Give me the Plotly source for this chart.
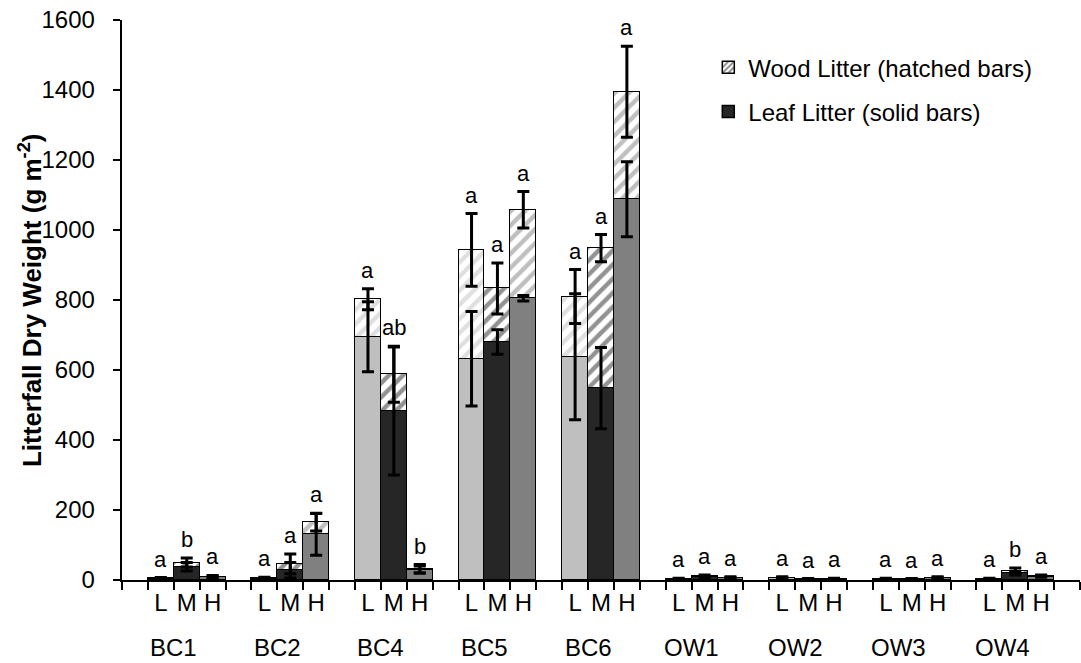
import plotly.graph_objects as go

groups = ["BC1", "BC2", "BC4", "BC5", "BC6", "OW1", "OW2", "OW3", "OW4"]
levels = ["L", "M", "H"]

# Leaf litter (solid bars) and total (leaf + wood) values, g m-2
L_leaf = [3, 4, 695, 632, 638, 2, 5, 2, 2]
L_total = [5, 6, 802, 943, 810, 4, 7, 4, 4]
M_leaf = [38, 28, 483, 680, 548, 8, 2, 2, 19]
M_total = [50, 46, 588, 833, 948, 12, 3, 3, 27]
H_leaf = [8, 131, 30, 805, 1088, 5, 3, 5, 10]
H_total = [10, 165, 32, 1058, 1395, 7, 4, 7, 12]

# Standard errors
L_leaf_err = [2, 2, 100, 135, 180, 1, 2, 1, 1]
L_total_err = [2, 2, 30, 104, 77, 1, 2, 1, 1]
M_leaf_err = [12, 22, 183, 35, 116, 2, 1, 1, 5]
M_total_err = [13, 28, 80, 73, 39, 2, 1, 1, 7]
H_leaf_err = [3, 60, 10, 8, 107, 2, 1, 2, 2]
H_total_err = [3, 25, 12, 52, 130, 2, 1, 2, 2]

# Significance letters
L_letters = ["a", "a", "a", "a", "a", "a", "a", "a", "a"]
M_letters = ["b", "a", "ab", "a", "a", "a", "a", "a", "b"]
H_letters = ["a", "a", "b", "a", "a", "a", "a", "a", "a"]

y_ticks = [0, 200, 400, 600, 800, 1000, 1200, 1400, 1600]

colors = {"L": "#bfbfbf", "M": "#262626", "H": "#808080"}
FONT = "Liberation Sans, Arial, sans-serif"

series = {
    "L": (L_leaf, L_total, L_leaf_err, L_total_err, L_letters),
    "M": (M_leaf, M_total, M_leaf_err, M_total_err, M_letters),
    "H": (H_leaf, H_total, H_leaf_err, H_total_err, H_letters),
}

fig = go.Figure()
annotations = []
for k, lev in enumerate(levels):
    leaf, total, lerr, terr, letters = series[lev]
    xs = [4 * g + 1.5 + k for g in range(len(groups))]
    wood = [t - l for t, l in zip(total, leaf)]
    fig.add_trace(go.Bar(
        x=xs, y=leaf, width=1, showlegend=False,
        marker=dict(color=colors[lev], line=dict(color="black", width=1.5)),
    ))
    fig.add_trace(go.Bar(
        x=xs, y=wood, width=1, showlegend=False,
        marker=dict(color="white", line=dict(color="black", width=1.5),
                    pattern=dict(shape="/", fgcolor=colors[lev], bgcolor="white",
                                 size=10, solidity=0.45)),
    ))
    for yv, ev in ((leaf, lerr), (total, terr)):
        fig.add_trace(go.Scatter(
            x=xs, y=yv, mode="markers", marker=dict(size=1, opacity=0),
            showlegend=False, hoverinfo="skip",
            error_y=dict(type="data", array=ev, visible=True, color="black",
                         thickness=3, width=6),
        ))
    for x, t, te, l, le, txt in zip(xs, total, terr, leaf, lerr, letters):
        top = max(t + te, l + le)
        annotations.append(dict(x=x, y=top, xref="x", yref="y", text=txt,
                                showarrow=False, yanchor="bottom", yshift=4,
                                font=dict(size=22, color="black", family=FONT)))

# Legend entries
fig.add_trace(go.Bar(
    x=[None], y=[None], name="Wood Litter (hatched bars)", legendgroup="wood",
    marker=dict(color="white", line=dict(color="black", width=1.5),
                pattern=dict(shape="/", fgcolor="black", bgcolor="white", size=5, solidity=0.45)),
))
fig.add_trace(go.Bar(
    x=[None], y=[None], name="Leaf Litter (solid bars)", legendgroup="leaf",
    marker=dict(color="#262626", line=dict(color="black", width=1.5)),
))

for g, name in enumerate(groups):
    annotations.append(dict(x=4 * g + 2, y=-0.121, xref="x", yref="paper", text=name,
                            showarrow=False, yanchor="middle",
                            font=dict(size=24, color="black", family=FONT)))

# y-axis title as a rotated annotation
annotations.append(dict(x=-0.096, y=0.5, xref="paper", yref="paper",
                        text="<b>Litterfall Dry Weight (g m<sup>-2</sup>)</b>",
                        textangle=-90, showarrow=False, xanchor="center", yanchor="middle",
                        font=dict(size=26, color="black", family=FONT)))

tick_x = [4 * g + 1.5 + k for g in range(len(groups)) for k in range(3)]
tick_t = [lev for g in range(len(groups)) for lev in levels]

fig.update_layout(
    width=1081, height=663,
    margin=dict(l=122, r=1, t=20, b=83),
    paper_bgcolor="white", plot_bgcolor="white",
    barmode="stack", bargap=0,
    font=dict(family=FONT, size=24, color="black"),
    annotations=annotations,
    legend=dict(x=0.612, y=0.955, xanchor="left", yanchor="top",
                font=dict(size=24, color="black", family=FONT),
                traceorder="grouped", tracegroupgap=10,
                bgcolor="rgba(0,0,0,0)"),
    xaxis=dict(range=[0, 37], showline=True, linecolor="black", linewidth=2,
               tickmode="array", tickvals=tick_x, ticktext=tick_t,
               ticks="outside", ticklen=0,
               minor=dict(tick0=0, dtick=1, ticks="outside", ticklen=8,
                          tickcolor="black", tickwidth=2),
               showgrid=False, zeroline=False,
               tickfont=dict(size=24, color="black", family=FONT)),
    yaxis=dict(range=[0, 1600], showline=True, linecolor="black", linewidth=2,
               tickmode="array", tickvals=y_ticks,
               ticktext=[f"{v}\u00a0\u00a0" for v in y_ticks],
               ticks="outside", ticklen=7, tickcolor="black", tickwidth=2,
               showgrid=False, zeroline=False,
               tickfont=dict(size=24, color="black", family=FONT)),
)

fig.write_html("out.html")
